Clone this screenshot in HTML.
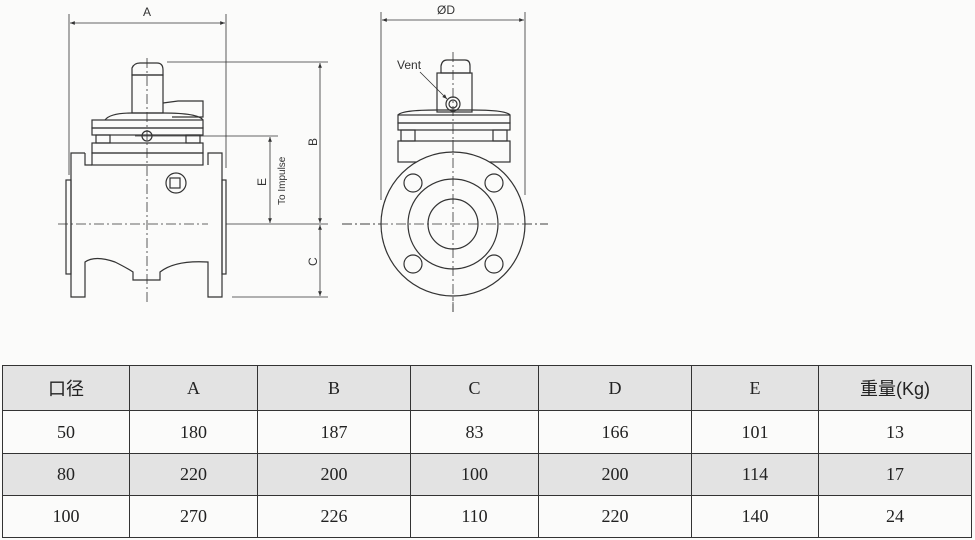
<!DOCTYPE html>
<html><head><meta charset="utf-8"><style>
body{margin:0;width:975px;height:540px;background:#fbfbfa;overflow:hidden;position:relative;font-family:"Liberation Serif","Noto Serif CJK SC",serif}
svg{position:absolute;left:0;top:0}
.c{position:absolute;border:1px solid #333;box-sizing:border-box;display:flex;align-items:center;justify-content:center;font-size:18px;color:#222}
.g{background:#e3e3e3}
.h{font-family:"Liberation Sans","Noto Sans CJK SC",sans-serif}
</style></head><body>
<svg width="975" height="360" viewBox="0 0 975 360" fill="none" stroke="#333" stroke-width="1.2" font-family="Liberation Sans, sans-serif">
<defs><marker id="ar" viewBox="0 0 10 10" refX="10" refY="5" markerWidth="8" markerHeight="6" orient="auto-start-reverse"><path d="M0,1L10,5L0,9z" fill="#333" stroke="none"/></marker></defs>
<g stroke-width="0.8">
<line x1="69" y1="14" x2="69" y2="175"/><line x1="226" y1="14" x2="226" y2="168"/>
<line x1="70" y1="23" x2="225" y2="23" marker-start="url(#ar)" marker-end="url(#ar)"/>
<line x1="167" y1="62" x2="328" y2="62"/><line x1="135" y1="136" x2="278" y2="136"/>
<line x1="226" y1="224" x2="328" y2="224"/><line x1="232" y1="297" x2="328" y2="297"/>
<line x1="320" y1="63" x2="320" y2="223" marker-start="url(#ar)" marker-end="url(#ar)"/>
<line x1="320" y1="225" x2="320" y2="296" marker-start="url(#ar)" marker-end="url(#ar)"/>
<line x1="270" y1="137" x2="270" y2="223" marker-start="url(#ar)" marker-end="url(#ar)"/>
<line x1="381" y1="12" x2="381" y2="200"/><line x1="525" y1="12" x2="525" y2="195"/>
<line x1="382" y1="20" x2="524" y2="20" marker-start="url(#ar)" marker-end="url(#ar)"/>
<line x1="420" y1="72" x2="447" y2="99" marker-end="url(#ar)"/>
</g>
<g stroke-dasharray="10,3,2,3" stroke-width="0.8">
<line x1="147" y1="58" x2="147" y2="302"/><line x1="58" y1="224" x2="208" y2="224"/>
<line x1="453" y1="52" x2="453" y2="312"/><line x1="342" y1="224" x2="548" y2="224"/>
</g>
<g fill="#333" stroke="none" font-size="12">
<text x="143" y="16">A</text><text x="437" y="14">ØD</text><text x="397" y="69">Vent</text>
<text transform="translate(317,146) rotate(-90)">B</text>
<text transform="translate(317,266) rotate(-90)">C</text>
<text transform="translate(266,186) rotate(-90)">E</text>
<text font-size="10" transform="translate(285,205) rotate(-90)">To Impulse</text>
</g>
<!-- left view -->
<path d="M132,75 L132,68 Q134,63 140,63 L157,63 Q163,63 163,70 L163,75 Z"/>
<rect x="132" y="75" width="31" height="38"/>
<path d="M163,103 L178,101 L203,101 L203,117 L172,117"/>
<path d="M105,120 Q110,113 132,113 L163,113 Q198,113 203,120"/>
<rect x="92" y="120" width="111" height="8"/><rect x="92" y="128" width="111" height="7"/>
<rect x="96" y="135" width="14" height="8"/><rect x="186" y="135" width="14" height="8"/>
<rect x="92" y="143" width="111" height="10"/><rect x="92" y="153" width="111" height="12"/>
<circle cx="147" cy="136" r="5"/>
<path d="M85,153 L71,153 L71,297 L85,297 L85,262 Q95,255 115,262 Q127,268 133,272 L133,280 L160,280 L160,272 Q175,260 208,262 L208,297 L222,297 L222,153 L208,153 L208,165 M85,153 L85,165 L92,165"/>
<rect x="66" y="180" width="5" height="94"/><rect x="222" y="180" width="4" height="94"/>
<circle cx="176" cy="183" r="10"/><rect x="170" y="178" width="10" height="10"/>
<!-- right view -->
<path d="M441,73 L441,66 Q442,60 447,60 L465,60 Q470,60 470,66 L470,73 Z"/>
<rect x="437" y="73" width="35" height="39"/>
<circle cx="453" cy="104" r="7"/><circle cx="453" cy="104" r="4"/>
<path d="M398,115 Q402,110 437,110 L472,110 Q506,110 510,115"/>
<rect x="398" y="115" width="112" height="8"/><rect x="398" y="123" width="112" height="7"/>
<rect x="401" y="130" width="14" height="11"/><rect x="493" y="130" width="14" height="11"/>
<rect x="398" y="141" width="112" height="21"/>
<circle cx="453" cy="224" r="72" fill="#fbfbfa"/><circle cx="453" cy="224" r="45"/><circle cx="453" cy="224" r="25"/>
<circle cx="413" cy="183" r="9"/><circle cx="494" cy="183" r="9"/><circle cx="413" cy="264" r="9"/><circle cx="494" cy="264" r="9"/>
<line x1="453" y1="140" x2="453" y2="312" stroke-dasharray="10,3,2,3" stroke-width="0.8"/>
<line x1="342" y1="224" x2="548" y2="224" stroke-dasharray="10,3,2,3" stroke-width="0.8"/>
</svg>
<div class="c g h" style="left:2px;top:365px;width:128px;height:46px">口径</div>
<div class="c g" style="left:129px;top:365px;width:129px;height:46px">A</div>
<div class="c g" style="left:257px;top:365px;width:154px;height:46px">B</div>
<div class="c g" style="left:410px;top:365px;width:129px;height:46px">C</div>
<div class="c g" style="left:538px;top:365px;width:154px;height:46px">D</div>
<div class="c g" style="left:691px;top:365px;width:128px;height:46px">E</div>
<div class="c g h" style="left:818px;top:365px;width:154px;height:46px">重量(Kg)</div>

<div class="c" style="left:2px;top:410px;width:128px;height:44px">50</div>
<div class="c" style="left:129px;top:410px;width:129px;height:44px">180</div>
<div class="c" style="left:257px;top:410px;width:154px;height:44px">187</div>
<div class="c" style="left:410px;top:410px;width:129px;height:44px">83</div>
<div class="c" style="left:538px;top:410px;width:154px;height:44px">166</div>
<div class="c" style="left:691px;top:410px;width:128px;height:44px">101</div>
<div class="c" style="left:818px;top:410px;width:154px;height:44px">13</div>

<div class="c g" style="left:2px;top:453px;width:128px;height:43px">80</div>
<div class="c g" style="left:129px;top:453px;width:129px;height:43px">220</div>
<div class="c g" style="left:257px;top:453px;width:154px;height:43px">200</div>
<div class="c g" style="left:410px;top:453px;width:129px;height:43px">100</div>
<div class="c g" style="left:538px;top:453px;width:154px;height:43px">200</div>
<div class="c g" style="left:691px;top:453px;width:128px;height:43px">114</div>
<div class="c g" style="left:818px;top:453px;width:154px;height:43px">17</div>

<div class="c" style="left:2px;top:495px;width:128px;height:43px">100</div>
<div class="c" style="left:129px;top:495px;width:129px;height:43px">270</div>
<div class="c" style="left:257px;top:495px;width:154px;height:43px">226</div>
<div class="c" style="left:410px;top:495px;width:129px;height:43px">110</div>
<div class="c" style="left:538px;top:495px;width:154px;height:43px">220</div>
<div class="c" style="left:691px;top:495px;width:128px;height:43px">140</div>
<div class="c" style="left:818px;top:495px;width:154px;height:43px">24</div>
</body></html>
